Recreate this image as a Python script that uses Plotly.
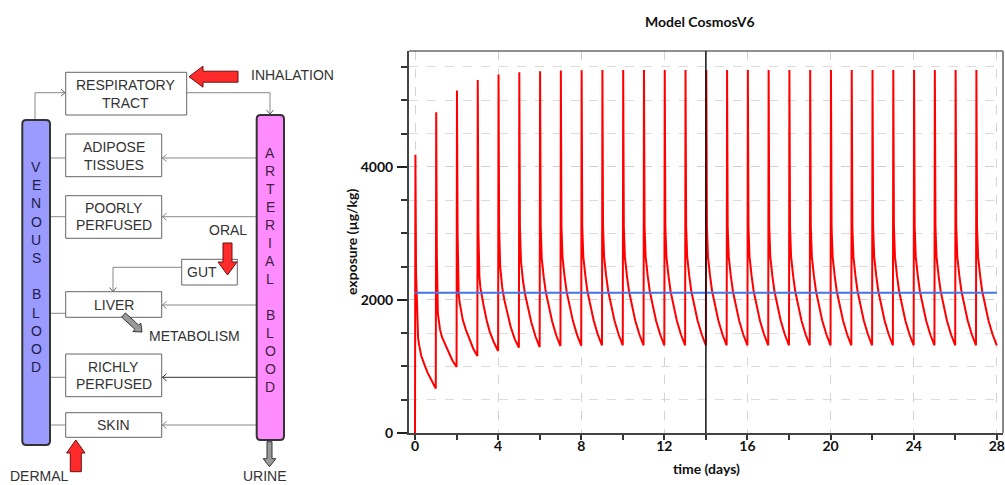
import math
import plotly.graph_objects as go

# ---------------- data ----------------
cycle_offsets = [0.0, 0.02, 0.05, 0.10, 0.15, 0.20, 0.30, 0.45, 0.60, 0.80]
exposure_by_day = [
    [0, 4180, 2400, 1700, 1420, 1320, 1160, 1030, 910, 790],
    [667, 4820, 2700, 1800, 1640, 1560, 1440, 1330, 1210, 1090],
    [991, 5146, 3000, 2100, 1960, 1860, 1700, 1550, 1420, 1270],
    [1156, 5306, 3050, 2350, 2180, 2080, 1920, 1690, 1520, 1360],
    [1232, 5386, 3080, 2500, 2320, 2180, 2000, 1780, 1600, 1410],
    [1282, 5420, 3090, 2580, 2400, 2280, 2080, 1850, 1660, 1450],
    [1292, 5436, 3100, 2620, 2450, 2330, 2110, 1870, 1680, 1465],
    [1307, 5446, 3100, 2640, 2470, 2350, 2120, 1880, 1685, 1475],
    [1312, 5452, 3100, 2650, 2480, 2360, 2125, 1885, 1690, 1478],
    [1317, 5455, 3100, 2650, 2480, 2360, 2130, 1890, 1690, 1480],
    [1317, 5455, 3100, 2650, 2480, 2360, 2130, 1890, 1690, 1480],
    [1317, 5455, 3100, 2650, 2480, 2360, 2130, 1890, 1690, 1480],
    [1317, 5455, 3100, 2650, 2480, 2360, 2130, 1890, 1690, 1480],
    [1317, 5455, 3100, 2650, 2480, 2360, 2130, 1890, 1690, 1480],
    [1317, 5455, 3100, 2650, 2480, 2360, 2130, 1890, 1690, 1480],
    [1317, 5455, 3100, 2650, 2480, 2360, 2130, 1890, 1690, 1480],
    [1317, 5455, 3100, 2650, 2480, 2360, 2130, 1890, 1690, 1480],
    [1317, 5455, 3100, 2650, 2480, 2360, 2130, 1890, 1690, 1480],
    [1317, 5455, 3100, 2650, 2480, 2360, 2130, 1890, 1690, 1480],
    [1317, 5455, 3100, 2650, 2480, 2360, 2130, 1890, 1690, 1480],
    [1317, 5455, 3100, 2650, 2480, 2360, 2130, 1890, 1690, 1480],
    [1317, 5455, 3100, 2650, 2480, 2360, 2130, 1890, 1690, 1480],
    [1317, 5455, 3100, 2650, 2480, 2360, 2130, 1890, 1690, 1480],
    [1317, 5455, 3100, 2650, 2480, 2360, 2130, 1890, 1690, 1480],
    [1317, 5455, 3100, 2650, 2480, 2360, 2130, 1890, 1690, 1480],
    [1317, 5455, 3100, 2650, 2480, 2360, 2130, 1890, 1690, 1480],
    [1317, 5455, 3100, 2650, 2480, 2360, 2130, 1890, 1690, 1480],
    [1317, 5455, 3100, 2650, 2480, 2360, 2130, 1890, 1690, 1480],
]
final_day = 28
final_exposure = 1317
reference_level = 2108
cursor_day = 14
x_tick_values = [0, 4, 8, 12, 16, 20, 24, 28]
y_tick_values = [0, 2000, 4000]

# ---------------- build series ----------------
t_vals, e_vals = [], []
for day, row in enumerate(exposure_by_day):
    for off, v in zip(cycle_offsets, row):
        t_vals.append(day + off)
        e_vals.append(v)
t_vals.append(final_day)
e_vals.append(final_exposure)

W, H = 1005, 485
def PX(x): return x / W
def PY(y): return 1 - y / H

FONT_B = "Lato"
fig = go.Figure()
fig.add_trace(go.Scatter(x=t_vals, y=e_vals, mode="lines",
                         line=dict(color="#ff0000", width=2), showlegend=False))
fig.add_trace(go.Scatter(x=[0, final_day], y=[reference_level, reference_level], mode="lines",
                         line=dict(color="#4472e8", width=2), showlegend=False))

shapes = []
annotations = []

# cursor line and frame
shapes.append(dict(type="line", xref="x", yref="y domain", x0=cursor_day, x1=cursor_day,
                   y0=0, y1=1, line=dict(color="#111", width=1.5)))
shapes.append(dict(type="line", xref="x domain", yref="y domain", x0=0, x1=1, y0=1, y1=1,
                   line=dict(color="#222", width=1.2)))
shapes.append(dict(type="line", xref="x domain", yref="y domain", x0=1, x1=1, y0=0, y1=1,
                   line=dict(color="#888", width=2)))

# ---------------- diagram ----------------
def path(points, close=True):
    s = "M " + " L ".join(f"{PX(x):.5f},{PY(y):.5f}" for x, y in points)
    return s + (" Z" if close else "")

def line(points, color="#888", width=1):
    shapes.append(dict(type="path", xref="paper", yref="paper", path=path(points, False),
                       line=dict(color=color, width=width)))

def box(x0, y0, x1, y1):
    shapes.append(dict(type="rect", xref="paper", yref="paper", x0=PX(x0), x1=PX(x1),
                       y0=PY(y1), y1=PY(y0), line=dict(color="#666", width=1),
                       fillcolor="white"))

def text(s, x, y, xanchor="center", size=14, color="#333"):
    annotations.append(dict(text=s, x=PX(x), y=PY(y), xref="paper", yref="paper",
                            showarrow=False, xanchor=xanchor, yanchor="middle",
                            font=dict(family="Liberation Sans", size=size, color=color)))

def rounded_bar(x0, y0, x1, y1, r, fill):
    p = (f"M {PX(x0+r)},{PY(y0)} L {PX(x1-r)},{PY(y0)} Q {PX(x1)},{PY(y0)} {PX(x1)},{PY(y0+r)} "
         f"L {PX(x1)},{PY(y1-r)} Q {PX(x1)},{PY(y1)} {PX(x1-r)},{PY(y1)} "
         f"L {PX(x0+r)},{PY(y1)} Q {PX(x0)},{PY(y1)} {PX(x0)},{PY(y1-r)} "
         f"L {PX(x0)},{PY(y0+r)} Q {PX(x0)},{PY(y0)} {PX(x0+r)},{PY(y0)} Z")
    shapes.append(dict(type="path", xref="paper", yref="paper", path=p, fillcolor=fill,
                       line=dict(color="#333", width=2)))

def block_arrow(x0, y0, x1, y1, shaft_hw, head_hw, head_len, fill, outline):
    dx, dy = x1 - x0, y1 - y0
    L = math.hypot(dx, dy)
    ux, uy = dx / L, dy / L
    nx, ny = -uy, ux
    bx, by = x1 - ux * head_len, y1 - uy * head_len
    pts = [(x0 + nx * shaft_hw, y0 + ny * shaft_hw), (bx + nx * shaft_hw, by + ny * shaft_hw),
           (bx + nx * head_hw, by + ny * head_hw), (x1, y1),
           (bx - nx * head_hw, by - ny * head_hw), (bx - nx * shaft_hw, by - ny * shaft_hw),
           (x0 - nx * shaft_hw, y0 - ny * shaft_hw)]
    shapes.append(dict(type="path", xref="paper", yref="paper", path=path(pts),
                       fillcolor=fill, line=dict(color=outline, width=1)))

def chevron(x, y, direction, color="#666"):
    s = 4
    if direction == "left":
        pts = [(x + s, y - 3.5), (x, y), (x + s, y + 3.5)]
    elif direction == "right":
        pts = [(x - s, y - 3.5), (x, y), (x - s, y + 3.5)]
    else:  # down
        pts = [(x - 3.5, y - s), (x, y), (x + 3.5, y - s)]
    line(pts, color=color, width=1)

# connectors
line([(35, 120), (35, 92.7), (65.7, 92.7)])
chevron(65, 92.7, "right")
line([(186.7, 92.7), (270, 92.7), (270, 114)])
chevron(270, 114, "down")
rows = [(158, 158, "#888"), (216.7, 216.7, "#888"), (305, 313.3, "#888"),
        (377.3, 377.3, "#333"), (425, 425, "#888")]
for ya, yv, c in rows:
    line([(256.7, ya), (161.7, ya)], color=c)
    chevron(162.5, ya, "left", color=c)
    line([(50, yv), (65.7, yv)], color="#888")
line([(181.7, 267.3), (113, 267.3), (113, 291.7)])
chevron(113, 291.5, "down")

# blood bars
rounded_bar(22.3, 120, 50, 445, 4, "#9a9aff")
rounded_bar(256.7, 115, 284, 440, 4, "#ff8cff")
for i, ch in enumerate("VENOUS BLOOD"):
    if ch != " ":
        text(ch, 36.2, 167 + 18.2 * i, color="#202048")
for i, ch in enumerate("ARTERIAL BLOOD"):
    if ch != " ":
        text(ch, 270.3, 153 + 18 * i, color="#402040")

# boxes
box(65.7, 72.3, 186.7, 115)
box(65.7, 134, 161.7, 176.7)
box(65.7, 195.7, 161.7, 238.3)
box(181.7, 259.3, 237.3, 285)
box(65.7, 291.7, 161.7, 317.3)
box(65.7, 354, 161.7, 396.7)
box(65.7, 412.7, 161.7, 437.3)

text("RESPIRATORY", 126, 85)
text("TRACT", 126, 103)
text("ADIPOSE", 113.7, 147)
text("TISSUES", 113.7, 165)
text("POORLY", 113.7, 208)
text("PERFUSED", 113.7, 225)
text("GUT", 201.7, 272.3)
text("LIVER", 113.7, 305)
text("RICHLY", 113.7, 366.7)
text("PERFUSED", 113.7, 384)
text("SKIN", 113.7, 425)
text("INHALATION", 249, 75, xanchor="left")
text("ORAL", 228, 230)
text("METABOLISM", 146.7, 336, xanchor="left")
text("DERMAL", 39, 476)
text("URINE", 265, 476)

# block arrows
RED, RED_O = "#ff2a2a", "#6a1010"
GRAY, GRAY_O = "#9a9a9a", "#333333"
block_arrow(238, 76.7, 189, 76.7, 5.5, 10.5, 14, RED, RED_O)
block_arrow(227.5, 243, 227.5, 275, 4.5, 9.5, 13, RED, RED_O)
block_arrow(75.8, 471.7, 75.8, 440, 5.5, 9.2, 13, RED, RED_O)
block_arrow(269.5, 441.7, 269.5, 466.7, 2.5, 6.3, 8, GRAY, GRAY_O)
block_arrow(123.5, 315, 142, 332, 2.8, 5.8, 7, GRAY, GRAY_O)

# chart texts
annotations.append(dict(text="<b>Model CosmosV6</b>", x=PX(700), y=PY(22), xref="paper", yref="paper",
                        showarrow=False, xanchor="center", yanchor="middle",
                        font=dict(family=FONT_B, size=14, color="#111")))
annotations.append(dict(text="<b>exposure (µg/kg)</b>", x=PX(351), y=PY(242), xref="paper", yref="paper",
                        showarrow=False, xanchor="center", yanchor="middle", textangle=-90,
                        font=dict(family=FONT_B, size=14, color="#111")))
annotations.append(dict(text="<b>time (days)</b>", x=PX(706), y=PY(468), xref="paper", yref="paper",
                        showarrow=False, xanchor="center", yanchor="middle",
                        font=dict(family=FONT_B, size=14, color="#111")))

tickfont = dict(family=FONT_B, size=14, color="#111", weight="bold")
fig.update_layout(
    width=W, height=H, margin=dict(l=0, r=0, t=0, b=0),
    paper_bgcolor="white", plot_bgcolor="white",
    xaxis=dict(domain=[PX(409), PX(1003)], range=[-0.289, 28.30],
               tickvals=x_tick_values, ticks="outside", ticklen=5, tickwidth=2, tickcolor="#333",
               showline=True, linecolor="#444", linewidth=2, ticklabelstandoff=-6,
               ticklabeloverflow="allow",
               showgrid=True, gridcolor="#d4d4d4", griddash="dash", gridwidth=1,
               zeroline=False, tickfont=tickfont, automargin=False,
               minor=dict(dtick=2, tick0=0, ticks="outside", ticklen=5, tickwidth=2,
                          tickcolor="#333", showgrid=False)),
    yaxis=dict(domain=[PY(433), PY(51)], range=[0, 5740],
               tickvals=y_tick_values, ticks="outside", ticklen=10, tickwidth=2, tickcolor="#222",
               showline=True, linecolor="#444", linewidth=2, ticklabelstandoff=1,
               showgrid=True, gridcolor="#cfcfcf", griddash="dash", gridwidth=1,
               zeroline=False, tickfont=tickfont, automargin=False,
               minor=dict(dtick=500, tick0=0, ticks="outside", ticklen=6, tickwidth=2,
                          tickcolor="#333", showgrid=True, gridcolor="#dcdcdc",
                          griddash="dash", gridwidth=1)),
    shapes=shapes, annotations=annotations, showlegend=False,
)

fig.write_html("out.html", config={"displayModeBar": False},
               post_script="document.body.style.margin='0';document.body.style.padding='0';"
                           "document.body.style.overflow='hidden';")
